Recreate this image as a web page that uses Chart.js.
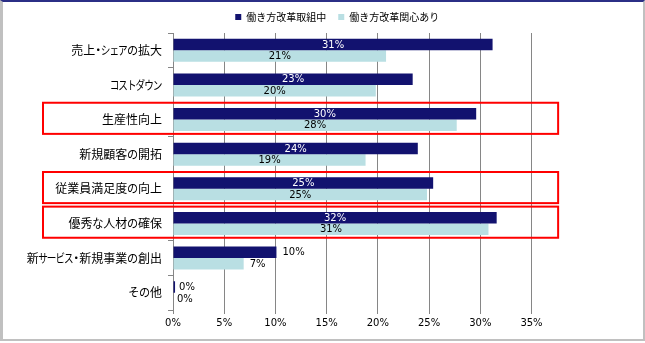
<!DOCTYPE html>
<html>
<head>
<meta charset="utf-8">
<script src="https://cdn.jsdelivr.net/npm/chart.js@4.4.1/dist/chart.umd.min.js"></script>
<style>
  html, body { margin: 0; padding: 0; background: #fff; }
  #frame {
    position: absolute; left: 0; top: 0;
    width: 640px; height: 337px;
    border-top: 2px solid #2b2f86;
    border-left: 3px solid #c0c0c0;
    border-right: 2px solid #c0c0c0;
    border-bottom: 2px solid #c0c0c0;
  }
  #wrap { position: absolute; left: 0; top: 0; width: 645px; height: 343px; }
</style>
</head>
<body>
<div id="frame"></div>
<div id="wrap"><canvas id="chart" width="645" height="343"></canvas></div>
<script>
const categories = ['売上・シェアの拡大', 'コストダウン', '生産性向上', '新規顧客の開拓', '従業員満足度の向上', '優秀な人材の確保', '新サービス・新規事業の創出', 'その他']
const seriesNames = ['働き方改革取組中', '働き方改革関心あり']
const engaged = [31.2, 23.4, 29.6, 23.9, 25.4, 31.6, 10.1, 0.2]
const interested = [20.8, 19.8, 27.7, 18.8, 24.8, 30.8, 6.9, 0]
const highlighted = [2, 4, 5]
const axisMax = 35
const axisStep = 5

const navy = '#12126f'
const paleBlue = '#b9dfe3'
const gridGray = '#868686'
const numFont = 'Verdana, "DejaVu Sans", sans-serif'
const jpFont = '"Noto Sans CJK JP", sans-serif'

// kana are set narrower in the original (proportional gothic)
function kanaScale(c) {
    if (c == '・') return 0.5
    if (/[\u30A0-\u30FF]/.test(c)) return 0.72
    if (/[\u3040-\u309F]/.test(c)) return 0.9
    return 1
}

function narrowFillText(ctx, orig) {
    return function (text, x, y) {
        const chars = Array.from(String(text))
        const adv = chars.map(c => ctx.measureText(c).width * kanaScale(c))
        const total = adv.reduce((a, b) => a + b, 0)
        const align = ctx.textAlign
        let pos = align == 'right' || align == 'end' ? x - total : align == 'center' ? x - total / 2 : x
        ctx.textAlign = 'center'
        chars.forEach((c, i) => {
            const s = kanaScale(c)
            const squeeze = c == '・' ? 1 : s + (1 - s) * 0.3
            ctx.save()
            ctx.translate(pos + adv[i] / 2, y)
            ctx.scale(squeeze, 1)
            orig.call(ctx, c, 0, 0)
            ctx.restore()
            pos += adv[i]
        })
        ctx.textAlign = align
    }
}

const narrowKana = {
    id: 'narrowKana',
    beforeDraw(chart) {
        const scale = chart.scales.y
        if (scale._narrowed) return
        const draw = scale.drawLabels
        scale.drawLabels = function (area) {
            const ctx = this.ctx
            const orig = ctx.fillText
            ctx.fillText = narrowFillText(ctx, orig)
            try { draw.call(this, area) } finally { ctx.fillText = orig }
        }
        scale._narrowed = true
    }
}

// legend sits over the plot, not the whole canvas
const legendPlace = {
    id: 'legendPlace',
    beforeInit(chart) {
        const fit = chart.legend.fit
        chart.legend.fit = function () {
            fit.bind(chart.legend)()
            this.height = 33
        }
    },
    afterLayout(chart) {
        chart.legend.left += 70
        chart.legend.right += 70
    }
}

const barLabels = {
    id: 'barLabels',
    afterDatasetsDraw(chart) {
        const ctx = chart.ctx
        ctx.save()
        ctx.font = '10px ' + numFont
        ctx.textBaseline = 'middle'
        chart.data.datasets.forEach((ds, di) => {
            chart.getDatasetMeta(di).data.forEach((bar, i) => {
                const v = ds.data[i]
                const text = Math.round(v) + '%'
                if (v >= 15) {
                    ctx.textAlign = 'center'
                    ctx.fillStyle = di == 0 ? '#ffffff' : '#000000'
                    ctx.fillText(text, (bar.x + bar.base) / 2, bar.y + 0.5)
                } else {
                    ctx.textAlign = 'left'
                    ctx.fillStyle = '#000000'
                    ctx.fillText(text, bar.x + (v < 1 ? 4 : 6), bar.y + 0.5)
                }
            })
        })
        ctx.restore()
    }
}

const redBoxes = {
    id: 'redBoxes',
    afterDraw(chart) {
        const ctx = chart.ctx
        const y = chart.scales.y
        const x = chart.scales.x
        const band = y.getPixelForValue(1) - y.getPixelForValue(0)
        ctx.save()
        ctx.strokeStyle = '#ff0000'
        ctx.lineWidth = 2
        highlighted.forEach(i => {
            const top = y.getPixelForValue(i) - band / 2 + 0.5
            const bottom = y.getPixelForValue(i) + band / 2 - 3
            const left = 43
            const right = x.getPixelForValue(37.6)
            ctx.strokeRect(left, top, right - left, bottom - top)
        })
        ctx.restore()
    }
}

new Chart(document.getElementById('chart'), {
    type: 'bar',
    data: {
        labels: categories,
        datasets: [
            { label: seriesNames[0], data: engaged, backgroundColor: navy },
            { label: seriesNames[1], data: interested, backgroundColor: paleBlue }
        ]
    },
    options: {
        indexAxis: 'y',
        responsive: false,
        animation: false,
        categoryPercentage: 0.665,
        barPercentage: 1.0,
        layout: { padding: { left: 3, right: 113.5, top: 0, bottom: 10 } },
        plugins: {
            legend: {
                position: 'top',
                labels: {
                    boxWidth: 6,
                    boxHeight: 6,
                    padding: 12,
                    color: '#000',
                    font: { size: 10, family: jpFont }
                }
            },
            tooltip: { enabled: false }
        },
        scales: {
            x: {
                min: 0,
                max: axisMax,
                ticks: {
                    stepSize: axisStep,
                    color: '#000',
                    padding: 3,
                    font: { size: 10, family: numFont },
                    callback: v => v + '%'
                },
                grid: { color: gridGray, tickLength: 4, tickColor: gridGray },
                border: { display: false },
                afterFit(scale) { scale.height = 23 }
            },
            y: {
                ticks: {
                    color: '#000',
                    padding: 6,
                    font: { size: 12, family: jpFont }
                },
                grid: { drawOnChartArea: false, offset: true, tickLength: 5, color: gridGray },
                border: { display: true, color: gridGray },
                afterFit(scale) { scale.width = 170 }
            }
        }
    },
    plugins: [narrowKana, legendPlace, barLabels, redBoxes]
})
</script>
</body>
</html>
